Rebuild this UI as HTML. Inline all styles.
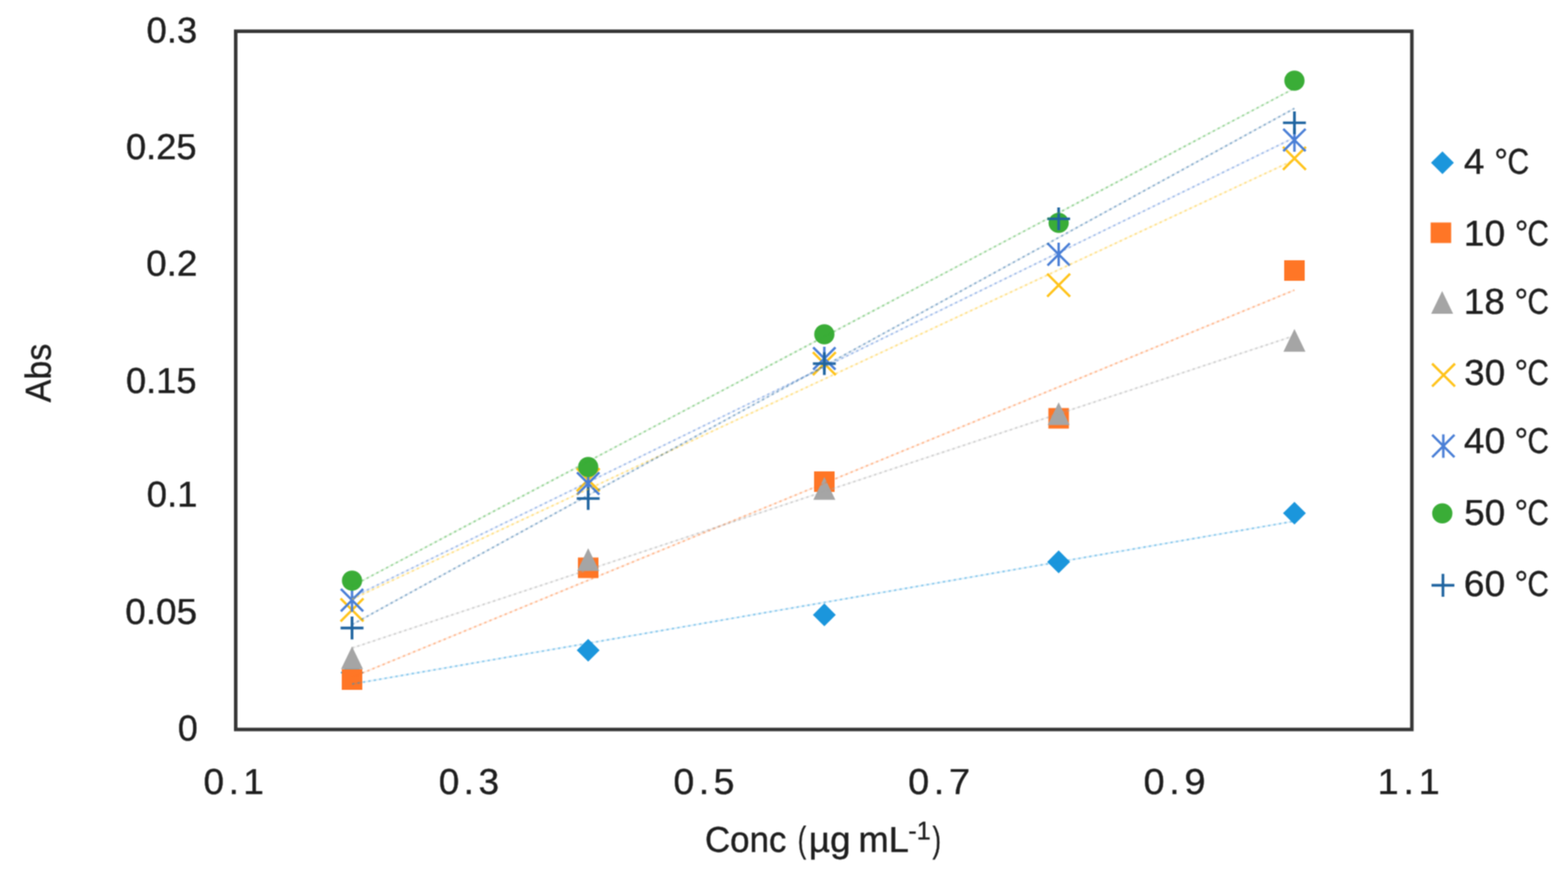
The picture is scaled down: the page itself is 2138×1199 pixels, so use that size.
<!DOCTYPE html>
<html><head><meta charset="utf-8"><title>Abs vs Conc</title>
<style>html,body{margin:0;padding:0;background:#fff;width:2138px;height:1199px;overflow:hidden}svg{display:block}</style>
</head><body>
<svg width="2138" height="1199" viewBox="0 0 2138 1199" font-family="'Liberation Sans', Arial, sans-serif" text-rendering="geometricPrecision">
<defs><filter id="soft" x="0" y="0" width="2138" height="1199" filterUnits="userSpaceOnUse" color-interpolation-filters="sRGB"><feConvolveMatrix order="3" kernelMatrix="1 2 1 2 4 2 1 2 1" divisor="16" edgeMode="duplicate" preserveAlpha="true"/></filter></defs>
<g filter="url(#soft)">
<rect width="2138" height="1199" fill="#fff"/>
<rect x="321.4" y="42.65" width="1603.7" height="952.4" fill="none" stroke="#363636" stroke-width="4.8"/>
<polygon points="480,901.9 495.6,917.5 480,933.1 464.4,917.5" fill="#1b96dc"/>
<polygon points="802,871.4 817.6,887 802,902.6 786.4,887" fill="#1b96dc"/>
<polygon points="1124,823.1 1139.6,838.7 1124,854.3000000000001 1108.4,838.7" fill="#1b96dc"/>
<polygon points="1443.5,750.8 1459.1,766.4 1443.5,782.0 1427.9,766.4" fill="#1b96dc"/>
<polygon points="1765,684.4 1780.6,700 1765,715.6 1749.4,700" fill="#1b96dc"/>
<rect x="466" y="913" width="28" height="28" fill="#ff7626"/>
<rect x="788" y="760.5" width="28" height="28" fill="#ff7626"/>
<rect x="1110" y="643" width="28" height="28" fill="#ff7626"/>
<rect x="1429.5" y="556.6" width="28" height="28" fill="#ff7626"/>
<rect x="1751" y="355" width="28" height="28" fill="#ff7626"/>
<polygon points="480,881.7 495,912.8 465,912.8" fill="#a5a5a5"/>
<polygon points="802,747.7 817,778.8 787,778.8" fill="#a5a5a5"/>
<polygon points="1124,650.7 1139,681.8 1109,681.8" fill="#a5a5a5"/>
<polygon points="1443.5,548.7 1458.5,579.8 1428.5,579.8" fill="#a5a5a5"/>
<polygon points="1765,448.7 1780,479.8 1750,479.8" fill="#a5a5a5"/>
<path d="M464.4,816.4L495.6,847.6M495.6,816.4L464.4,847.6" stroke="#ffc31a" stroke-width="3.3" fill="none"/>
<path d="M786.4,638.9L817.6,670.1M817.6,638.9L786.4,670.1" stroke="#ffc31a" stroke-width="3.3" fill="none"/>
<path d="M1108.4,480.4L1139.6,511.6M1139.6,480.4L1108.4,511.6" stroke="#ffc31a" stroke-width="3.3" fill="none"/>
<path d="M1427.9,373.4L1459.1,404.6M1459.1,373.4L1427.9,404.6" stroke="#ffc31a" stroke-width="3.3" fill="none"/>
<path d="M1749.4,200.4L1780.6,231.6M1780.6,200.4L1749.4,231.6" stroke="#ffc31a" stroke-width="3.3" fill="none"/>
<path d="M464.8,803.4L495.2,833.8000000000001M495.2,803.4L464.8,833.8000000000001M480,802.6L480,834.6" stroke="#4a7fd6" stroke-width="3.3" fill="none"/>
<path d="M786.8,644.3L817.2,674.7M817.2,644.3L786.8,674.7M802,643.5L802,675.5" stroke="#4a7fd6" stroke-width="3.3" fill="none"/>
<path d="M1108.8,473.8L1139.2,504.2M1139.2,473.8L1108.8,504.2M1124,473.0L1124,505.0" stroke="#4a7fd6" stroke-width="3.3" fill="none"/>
<path d="M1428.3,331.8L1458.7,362.2M1458.7,331.8L1428.3,362.2M1443.5,331.0L1443.5,363.0" stroke="#4a7fd6" stroke-width="3.3" fill="none"/>
<path d="M1749.8,175.8L1780.2,206.2M1780.2,175.8L1749.8,206.2M1765,175.0L1765,207.0" stroke="#4a7fd6" stroke-width="3.3" fill="none"/>
<circle cx="480" cy="792" r="13.8" fill="#3aad37"/>
<circle cx="802" cy="637" r="13.8" fill="#3aad37"/>
<circle cx="1124" cy="456" r="13.8" fill="#3aad37"/>
<circle cx="1443.5" cy="304" r="13.8" fill="#3aad37"/>
<circle cx="1765" cy="110" r="13.8" fill="#3aad37"/>
<path d="M464.4,856.7L495.6,856.7M480,841.1L480,872.3000000000001" stroke="#1f64a0" stroke-width="3.7" fill="none"/>
<path d="M786.4,680L817.6,680M802,664.4L802,695.6" stroke="#1f64a0" stroke-width="3.7" fill="none"/>
<path d="M1108.4,496L1139.6,496M1124,480.4L1124,511.6" stroke="#1f64a0" stroke-width="3.7" fill="none"/>
<path d="M1427.9,298.5L1459.1,298.5M1443.5,282.9L1443.5,314.1" stroke="#1f64a0" stroke-width="3.7" fill="none"/>
<path d="M1749.4,167.5L1780.6,167.5M1765,151.9L1765,183.1" stroke="#1f64a0" stroke-width="3.7" fill="none"/>
<polygon points="1966.8,206.4 1982.3999999999999,222 1966.8,237.6 1951.2,222" fill="#1b96dc"/>
<rect x="1950.7" y="303.5" width="28" height="28" fill="#ff7626"/>
<polygon points="1966.4,397.0 1981.4,428.1 1951.4,428.1" fill="#a5a5a5"/>
<path d="M1952.7,496.0L1983.8999999999999,527.2M1983.8999999999999,496.0L1952.7,527.2" stroke="#ffc31a" stroke-width="3.3" fill="none"/>
<path d="M1952.8,593.1999999999999L1983.2,623.6M1983.2,593.1999999999999L1952.8,623.6M1968,592.4L1968,624.4" stroke="#4a7fd6" stroke-width="3.3" fill="none"/>
<circle cx="1966.6" cy="700.3" r="13.8" fill="#3aad37"/>
<path d="M1951.9,798.3L1983.1,798.3M1967.5,782.6999999999999L1967.5,813.9" stroke="#1f64a0" stroke-width="3.7" fill="none"/>
<line x1="480" y1="933.1" x2="1765" y2="710.9" stroke="#1b96dc" stroke-opacity="0.12" stroke-width="2.4"/>
<line x1="480" y1="933.1" x2="1765" y2="710.9" stroke="#1b96dc" stroke-opacity="0.42" stroke-width="2.4" stroke-dasharray="3.2 4.3"/>
<line x1="480" y1="923.9" x2="1765" y2="395.7" stroke="#ff7626" stroke-opacity="0.12" stroke-width="2.4"/>
<line x1="480" y1="923.9" x2="1765" y2="395.7" stroke="#ff7626" stroke-opacity="0.42" stroke-width="2.4" stroke-dasharray="3.2 4.3"/>
<line x1="480" y1="884.0" x2="1765" y2="457.9" stroke="#a5a5a5" stroke-opacity="0.12" stroke-width="2.4"/>
<line x1="480" y1="884.0" x2="1765" y2="457.9" stroke="#a5a5a5" stroke-opacity="0.42" stroke-width="2.4" stroke-dasharray="3.2 4.3"/>
<line x1="480" y1="817.3" x2="1765" y2="218.1" stroke="#ffc31a" stroke-opacity="0.12" stroke-width="2.4"/>
<line x1="480" y1="817.3" x2="1765" y2="218.1" stroke="#ffc31a" stroke-opacity="0.42" stroke-width="2.4" stroke-dasharray="3.2 4.3"/>
<line x1="480" y1="814.9" x2="1765" y2="187.6" stroke="#4a7fd6" stroke-opacity="0.12" stroke-width="2.4"/>
<line x1="480" y1="814.9" x2="1765" y2="187.6" stroke="#4a7fd6" stroke-opacity="0.42" stroke-width="2.4" stroke-dasharray="3.2 4.3"/>
<line x1="480" y1="799.5" x2="1765" y2="120.5" stroke="#3aad37" stroke-opacity="0.12" stroke-width="2.4"/>
<line x1="480" y1="799.5" x2="1765" y2="120.5" stroke="#3aad37" stroke-opacity="0.42" stroke-width="2.4" stroke-dasharray="3.2 4.3"/>
<line x1="480" y1="852.0" x2="1765" y2="147.9" stroke="#1f64a0" stroke-opacity="0.12" stroke-width="2.4"/>
<line x1="480" y1="852.0" x2="1765" y2="147.9" stroke="#1f64a0" stroke-opacity="0.42" stroke-width="2.4" stroke-dasharray="3.2 4.3"/>
<g fill="#1e1e1e" stroke="#1e1e1e" stroke-width="0.5" stroke-linejoin="round">
<text transform="translate(199.73,57.55) scale(1.0116,1.0000)" font-size="49.2">0.3</text>
<text transform="translate(171.74,216.65) scale(1.0060,1.0000)" font-size="49.2">0.25</text>
<text transform="translate(199.21,376.25) scale(1.0233,1.0000)" font-size="49.2">0.2</text>
<text transform="translate(171.74,535.55) scale(1.0060,1.0000)" font-size="49.2">0.15</text>
<text transform="translate(199.92,691.35) scale(1.0155,1.0000)" font-size="49.2">0.1</text>
<text transform="translate(170.71,850.75) scale(1.0244,1.0000)" font-size="49.2">0.05</text>
<text transform="translate(242.56,1010.15) scale(0.9958,1.0000)" font-size="49.2">0</text>
<text transform="translate(277.61,1082.55) scale(1.0222,1.0000)" font-size="49.2" letter-spacing="6">0.1</text>
<text transform="translate(598.21,1082.55) scale(1.0241,1.0000)" font-size="49.2" letter-spacing="6">0.3</text>
<text transform="translate(918.19,1082.55) scale(1.0358,1.0000)" font-size="49.2" letter-spacing="6">0.5</text>
<text transform="translate(1238.16,1082.55) scale(1.0510,1.0000)" font-size="49.2" letter-spacing="6">0.7</text>
<text transform="translate(1559.16,1082.55) scale(1.0510,1.0000)" font-size="49.2" letter-spacing="6">0.9</text>
<text transform="translate(1878.32,1083.05) scale(1.0528,1.0000)" font-size="49.2" letter-spacing="6">1.1</text>
<text transform="translate(68.85,548.7) rotate(-90) scale(0.9429,1)" font-size="49.2">Abs</text>
<text font-size="49.2"><tspan x="1996.07" y="237.25" textLength="28.06" lengthAdjust="spacingAndGlyphs">4</tspan><tspan x="2024.67" y="237.25" textLength="31.59" lengthAdjust="spacingAndGlyphs"> °</tspan><tspan x="2055.53" y="237.25" textLength="29.55" lengthAdjust="spacingAndGlyphs">C</tspan></text>
<text font-size="49.2"><tspan x="1996.11" y="334.65" textLength="56.16" lengthAdjust="spacingAndGlyphs">10</tspan><tspan x="2052.68" y="334.65" textLength="31.35" lengthAdjust="spacingAndGlyphs"> °</tspan><tspan x="2082.65" y="334.65" textLength="29.21" lengthAdjust="spacingAndGlyphs">C</tspan></text>
<text font-size="49.2"><tspan x="1996.14" y="428.05" textLength="55.66" lengthAdjust="spacingAndGlyphs">18</tspan><tspan x="2052.05" y="428.05" textLength="31.82" lengthAdjust="spacingAndGlyphs"> °</tspan><tspan x="2082.65" y="428.05" textLength="29.21" lengthAdjust="spacingAndGlyphs">C</tspan></text>
<text font-size="49.2"><tspan x="1996.62" y="525.05" textLength="55.63" lengthAdjust="spacingAndGlyphs">30</tspan><tspan x="2052.05" y="525.05" textLength="31.82" lengthAdjust="spacingAndGlyphs"> °</tspan><tspan x="2082.65" y="525.05" textLength="29.21" lengthAdjust="spacingAndGlyphs">C</tspan></text>
<text font-size="49.2"><tspan x="1996.07" y="618.05" textLength="56.19" lengthAdjust="spacingAndGlyphs">40</tspan><tspan x="2052.05" y="618.05" textLength="31.82" lengthAdjust="spacingAndGlyphs"> °</tspan><tspan x="2082.65" y="618.05" textLength="29.21" lengthAdjust="spacingAndGlyphs">C</tspan></text>
<text font-size="49.2"><tspan x="1996.62" y="715.65" textLength="55.63" lengthAdjust="spacingAndGlyphs">50</tspan><tspan x="2052.05" y="715.65" textLength="31.82" lengthAdjust="spacingAndGlyphs"> °</tspan><tspan x="2082.65" y="715.65" textLength="29.21" lengthAdjust="spacingAndGlyphs">C</tspan></text>
<text font-size="49.2"><tspan x="1996.09" y="812.95" textLength="56.17" lengthAdjust="spacingAndGlyphs">60</tspan><tspan x="2052.05" y="812.95" textLength="31.82" lengthAdjust="spacingAndGlyphs"> °</tspan><tspan x="2082.65" y="812.95" textLength="29.21" lengthAdjust="spacingAndGlyphs">C</tspan></text>
<text font-size="49.2"><tspan x="961.22" y="1162.05" textLength="111.22" lengthAdjust="spacingAndGlyphs">Conc</tspan><tspan x="1078.19" y="1162.05" textLength="21.14" lengthAdjust="spacingAndGlyphs"> (</tspan><tspan x="1102.72" y="1162.05" textLength="57.21" lengthAdjust="spacingAndGlyphs">µg</tspan><tspan x="1156.63" y="1162.05" textLength="82.58" lengthAdjust="spacingAndGlyphs"> mL</tspan><tspan x="1238.59" y="1144.85" font-size="35" textLength="30.25" lengthAdjust="spacingAndGlyphs">-1</tspan><tspan x="1271.6" y="1162.05" textLength="11.66" lengthAdjust="spacingAndGlyphs">)</tspan></text>
</g>
</g>
</svg>
</body></html>
